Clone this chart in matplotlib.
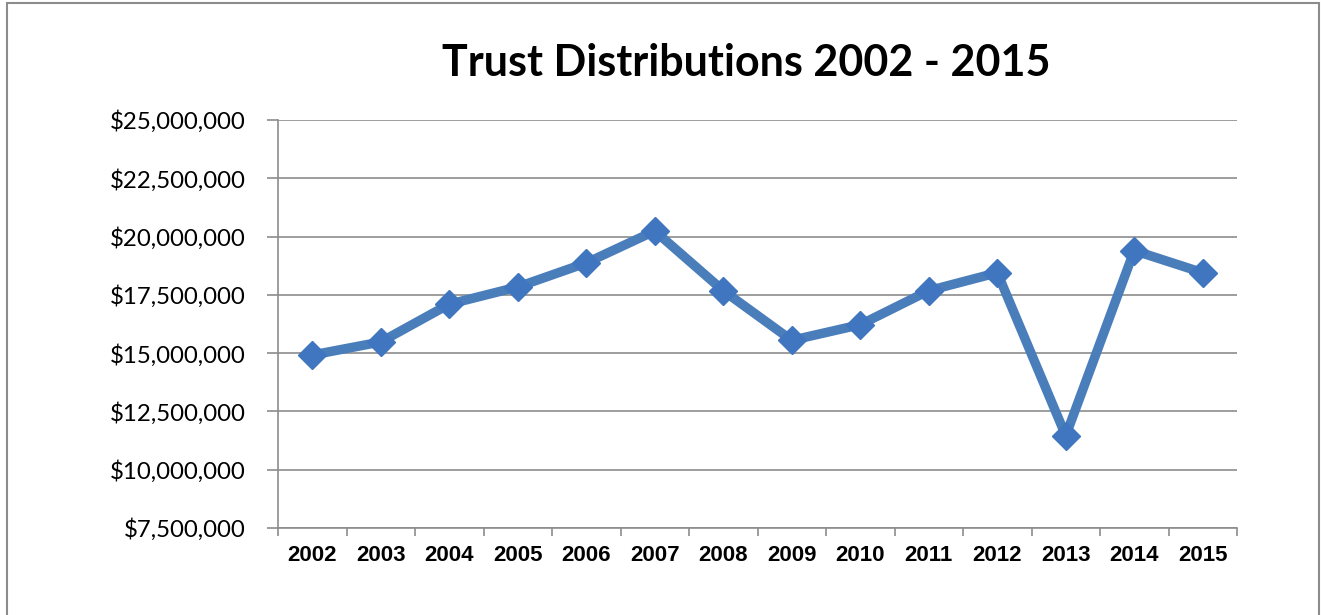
import matplotlib
matplotlib.use("Agg")
import matplotlib.pyplot as plt
from matplotlib.patches import Rectangle
from matplotlib.ticker import FuncFormatter, MultipleLocator

years = ["2002", "2003", "2004", "2005", "2006", "2007", "2008",
         "2009", "2010", "2011", "2012", "2013", "2014", "2015"]
distributions = [14.92e6, 15.48e6, 17.10e6, 17.84e6, 18.87e6, 20.24e6, 17.68e6,
                 15.55e6, 16.22e6, 17.68e6, 18.45e6, 11.46e6, 19.40e6, 18.45e6]

W, H = 1321, 615
fig = plt.figure(figsize=(W / 100, H / 100), dpi=100)
fig.patch.set_facecolor("white")

# outer chart border
fig.add_artist(Rectangle((7 / W, -0.01), (1319 - 7) / W, (H - 3) / H + 0.01,
                         transform=fig.transFigure, fill=False,
                         edgecolor="#8c8c8c", linewidth=1.5))

left, right, top, bottom = 278, 1237, 120, 528
ax = fig.add_axes([left / W, 1 - bottom / H, (right - left) / W, (bottom - top) / H])

x = list(range(len(years)))
ax.plot(x, distributions, color="#4a7ebb", linewidth=6.8, marker="D",
        markersize=14, markerfacecolor="#3f76bf", markeredgecolor="#3f76bf",
        solid_joinstyle="miter", zorder=3)

ax.set_xlim(-0.5, len(years) - 0.5)
ax.set_ylim(7.5e6, 25e6)
ax.yaxis.set_major_locator(MultipleLocator(2.5e6))
ax.yaxis.set_major_formatter(FuncFormatter(lambda v, p: "${:,.0f}".format(v)))
ax.grid(axis="y", color="#8c8c8c", linewidth=1.2, zorder=0)

ax.set_xticks([i - 0.5 for i in range(len(years) + 1)], minor=False)
ax.set_xticklabels([])
ax.set_xticks(x, minor=True)
ax.set_xticklabels(years, minor=True, fontfamily="Liberation Sans",
                   fontweight="bold", fontsize=16)
ax.tick_params(axis="x", which="minor", length=0, pad=12)
ax.tick_params(axis="x", which="major", length=6, color="#8c8c8c", width=1.2)
ax.tick_params(axis="y", length=8, color="#8c8c8c", width=1.2, pad=15,
               labelsize=17.3)
for lab in ax.get_yticklabels():
    lab.set_fontfamily("Lato")

for s in ["top", "right"]:
    ax.spines[s].set_visible(False)
for s in ["left", "bottom"]:
    ax.spines[s].set_color("#8c8c8c")
    ax.spines[s].set_linewidth(1.2)

fig.text(746 / W, 1 - 63 / H, "Trust Distributions 2002 - 2015",
         ha="center", va="center", fontfamily="Lato", fontweight="bold",
         fontsize=31)

fig.savefig("out.png", dpi=100, facecolor="white")
